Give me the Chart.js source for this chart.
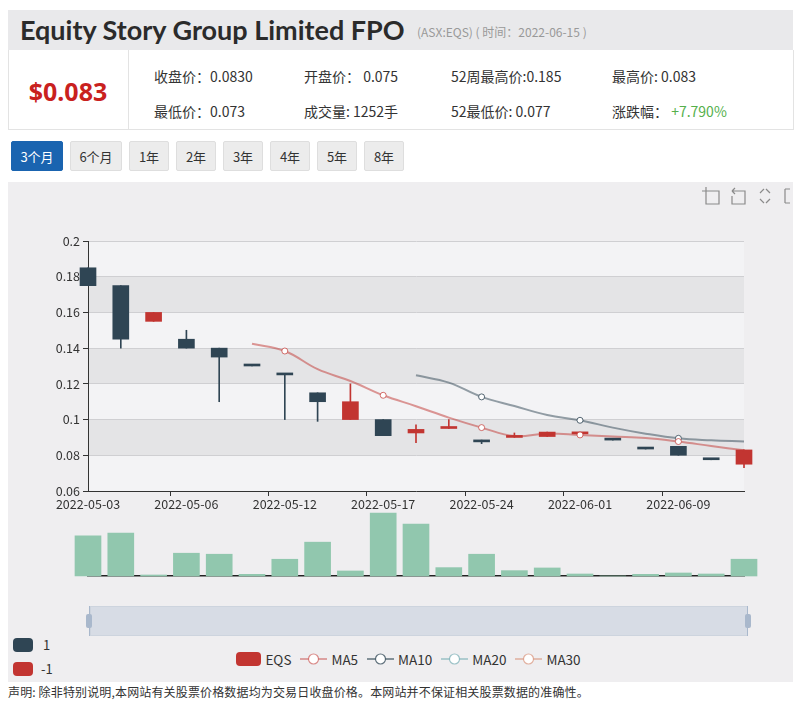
<!DOCTYPE html>
<html>
<head>
<meta charset="utf-8">
<script src="https://cdn.jsdelivr.net/npm/chart.js@4.4.1/dist/chart.umd.min.js"></script>
<style>
  body { margin: 0; width: 803px; height: 706px; background: #fff; position: relative; overflow: hidden;
         font-family: "Noto Sans CJK SC", "Noto Sans", sans-serif; color: #333; }
  .abs { position: absolute; }
  #head { left: 8px; top: 10px; width: 785px; height: 40px; background: #e9e9eb; }
  #title { left: 20px; top: 13px; font: 700 27px Lato, "Noto Sans", sans-serif; color: #2b2b2b; white-space: nowrap; }
  #sub { left: 417px; top: 23px; font-size: 12px; color: #999; white-space: nowrap; }
  #info { left: 8px; top: 50px; width: 784px; height: 79px; border: 1px solid #e3e3e3; border-top: none; }
  #divider { left: 128px; top: 50px; width: 1px; height: 80px; background: #e3e3e3; }
  #price { left: 8px; top: 74px; width: 120px; text-align: center; font: 700 25px "Noto Sans", sans-serif; color: #c9211e; }
  .stat { font-size: 14px; white-space: nowrap; }
  .btn { top: 141px; height: 30px; line-height: 30px; text-align: center; font-size: 13px; background: #ececec;
         border: 1px solid #dedede; box-sizing: border-box; color: #333; border-radius: 2px; }
  .btn.on { background: #1a64b0; border-color: #1a64b0; color: #fff; }
  #box { left: 8px; top: 182px; width: 785px; height: 500px; background: #efeef0; }
  canvas { position: absolute; }
  .vm { width: 20px; height: 14px; border-radius: 4px; }
  .lg { font-size: 13px; white-space: nowrap; }
  #foot { left: 8px; top: 683px; font-size: 12px; letter-spacing: 0.15px; white-space: nowrap; }
</style>
</head>
<body>
<div id="head" class="abs"></div>
<div id="title" class="abs">Equity Story Group Limited FPO</div>
<div id="sub" class="abs">(ASX:EQS) ( 时间：2022-06-15 )</div>
<div id="info" class="abs"></div>
<div id="divider" class="abs"></div>
<div id="price" class="abs">$0.083</div>
<div class="abs stat" style="left:154px;top:66px">收盘价：0.0830</div>
<div class="abs stat" style="left:304px;top:66px">开盘价： 0.075</div>
<div class="abs stat" style="left:451px;top:66px">52周最高价:0.185</div>
<div class="abs stat" style="left:612px;top:66px">最高价: 0.083</div>
<div class="abs stat" style="left:154px;top:101px">最低价：0.073</div>
<div class="abs stat" style="left:304px;top:101px">成交量: 1252手</div>
<div class="abs stat" style="left:451px;top:101px">52最低价: 0.077</div>
<div class="abs stat" style="left:612px;top:101px">涨跌幅： <span style="color:#55b04c">+7.790%</span></div>

<div class="abs btn on" style="left:11px;width:52px">3个月</div>
<div class="abs btn" style="left:70px;width:52px">6个月</div>
<div class="abs btn" style="left:129px;width:40px">1年</div>
<div class="abs btn" style="left:176px;width:40px">2年</div>
<div class="abs btn" style="left:223px;width:40px">3年</div>
<div class="abs btn" style="left:270px;width:40px">4年</div>
<div class="abs btn" style="left:317px;width:40px">5年</div>
<div class="abs btn" style="left:364px;width:40px">8年</div>

<div id="box" class="abs"></div>
<svg class="abs" style="left:700px;top:185px" width="93" height="22" fill="none" stroke="#8a8a8a" stroke-width="1.2">
  <path d="M6 6 H19 V19 H6 Z M6 2 V10 M2 6 H10"/>
  <path d="M32 6 H45 V19 H32 V11 M32 6 L35 3 M32 6 L35 9"/>
  <path d="M60 8 L64 4 M66 4 L70 8 M70 14 L66 18 M64 18 L60 14" />
  <path d="M85 4 V18 M85 4 H90 M85 18 H90"/>
</svg>
<canvas id="priceChart" width="803" height="280" style="left:0;top:230px"></canvas>
<canvas id="volChart" width="803" height="75" style="left:0;top:505px"></canvas>

<div class="abs" style="left:90px;top:606px;width:658px;height:30px;background:#d7dce5;border:1px solid #cdd4de;box-sizing:border-box"></div>
<div class="abs" style="left:89px;top:606px;width:1px;height:30px;background:#a9b8cc"></div>
<div class="abs" style="left:747px;top:606px;width:1px;height:30px;background:#a9b8cc"></div>
<div class="abs" style="left:86px;top:614px;width:6px;height:14px;background:#a9b8cc;border-radius:2px"></div>
<div class="abs" style="left:745px;top:614px;width:6px;height:14px;background:#a9b8cc;border-radius:2px"></div>

<div class="abs vm" style="left:13px;top:638px;background:#2f4554"></div>
<div class="abs lg" style="left:43px;top:635px">1</div>
<div class="abs vm" style="left:13px;top:662px;background:#c23531"></div>
<div class="abs lg" style="left:41px;top:659px">-1</div>

<div id="legend" class="abs" style="left:0;top:649px;width:803px;height:20px"></div>
<div id="foot" class="abs">声明: 除非特别说明,本网站有关股票价格数据均为交易日收盘价格。本网站并不保证相关股票数据的准确性。</div>

<script>
// daily candles, 3-month view
const dates = ['2022-05-03', '2022-05-04', '2022-05-05', '2022-05-06', '2022-05-09', '2022-05-10', '2022-05-12',
  '2022-05-13', '2022-05-16', '2022-05-17', '2022-05-18', '2022-05-20', '2022-05-24', '2022-05-25',
  '2022-05-27', '2022-06-01', '2022-06-02', '2022-06-07', '2022-06-09', '2022-06-10', '2022-06-15'];
const opens  = [0.185, 0.175, 0.155, 0.145, 0.14, 0.13, 0.125, 0.115, 0.10, 0.10, 0.0925, 0.095, 0.0885, 0.09,
  0.0905, 0.092, 0.0885, 0.0835, 0.085, 0.0775, 0.075];
const closes = [0.175, 0.145, 0.16, 0.14, 0.135, 0.13, 0.125, 0.11, 0.11, 0.091, 0.0945, 0.095, 0.0875, 0.091,
  0.093, 0.0925, 0.0885, 0.0835, 0.08, 0.0775, 0.083];
const lows   = [0.175, 0.14, 0.155, 0.14, 0.11, 0.13, 0.10, 0.099, 0.10, 0.091, 0.087, 0.095, 0.0865, 0.09,
  0.0905, 0.092, 0.0885, 0.0835, 0.08, 0.0775, 0.073];
const highs  = [0.185, 0.175, 0.16, 0.15, 0.14, 0.13, 0.125, 0.115, 0.12, 0.10, 0.097, 0.10, 0.0885, 0.0925,
  0.093, 0.0925, 0.0885, 0.0835, 0.085, 0.0775, 0.083];
const signs  = [1, 1, -1, 1, 1, 1, 1, 1, -1, 1, -1, -1, 1, -1, -1, -1, 1, 1, 1, 1, -1];
const ma5  = [null, null, null, null, null, 0.1425, 0.1384, 0.1282, 0.1216, 0.1136, 0.1075, 0.1011, 0.0955,
  0.0908, 0.0922, 0.0914, 0.0905, 0.0897, 0.0877, 0.0852, 0.0828];
const ma10 = [null, null, null, null, null, null, null, null, null, null, 0.1248, 0.1207, 0.1127, 0.1076,
  0.1026, 0.0996, 0.0955, 0.0921, 0.0895, 0.0884, 0.0877];
const volumes = [3000, 3200, 75, 1700, 1625, 125, 1250, 2525, 375, 4700, 3875, 625, 1625, 400, 600, 150, 0,
  125, 225, 150, 1252];
const yTicks = { min: 0.06, max: 0.2, step: 0.02 };

const DARK = '#2f4554', RED = '#c23531';
const candleColor = i => signs[i] > 0 ? DARK : RED;

const legendItems = [
  { name: 'EQS', type: 'box', color: RED },
  { name: 'MA5', type: 'line', color: 'rgba(194,53,49,0.55)' },
  { name: 'MA10', type: 'line', color: 'rgba(47,69,84,0.75)' },
  { name: 'MA20', type: 'line', color: 'rgba(97,160,168,0.6)' },
  { name: 'MA30', type: 'line', color: 'rgba(212,130,101,0.6)' }
];

// html legend, centred like the echarts one
const legend = document.getElementById('legend');
const row = document.createElement('div');
row.style.cssText = 'display:flex;justify-content:center;align-items:center;height:20px;gap:9px;margin-left:14px';
legendItems.forEach(it => {
  const el = document.createElement('div');
  el.style.cssText = 'display:flex;align-items:center;gap:4px;font-size:13.5px;color:#333';
  const icon = it.type === 'box'
    ? `<span style="display:inline-block;width:25px;height:14px;border-radius:4px;background:${it.color}"></span>`
    : `<svg width="27" height="14"><line x1="0" y1="7" x2="27" y2="7" stroke="${it.color}" stroke-width="1.5"/>` +
      `<circle cx="13.5" cy="7" r="5" fill="#fff" stroke="${it.color}" stroke-width="1.2"/></svg>`;
  el.innerHTML = icon + `<span>${it.name}</span>`;
  row.appendChild(el);
});
legend.appendChild(row);

// alternating split-area bands behind the price grid
const bandPlugin = {
  id: 'bands',
  beforeDraw(chart) {
    const { ctx, chartArea: a, scales: { y } } = chart;
    const vals = y.ticks.map(t => t.value).sort((p, q) => p - q);
    ctx.save();
    ctx.fillStyle = '#f3f3f5';
    ctx.fillRect(a.left, a.top, a.right - a.left, a.bottom - a.top);
    for (let i = 0; i < vals.length - 1; i++) {
      if (i % 2 === 0) continue;
      const top = y.getPixelForValue(vals[i + 1]);
      const bot = y.getPixelForValue(vals[i]);
      ctx.fillStyle = '#e4e4e6';
      ctx.fillRect(a.left, top, a.right - a.left, bot - top);
    }
    ctx.restore();
  }
};

const pointAtLabels = ctx => ctx.dataIndex % 3 === 0 ? 3 : 0;
const tickFont = { size: 12.5, family: '"Noto Sans CJK SC", "Noto Sans", sans-serif' };

new Chart(document.getElementById('priceChart'), {
  data: {
    labels: dates,
    datasets: [
      {
        type: 'line', label: 'MA5', data: ma5, order: 0,
        borderColor: 'rgba(194,53,49,0.5)', borderWidth: 2, tension: 0.4,
        pointRadius: pointAtLabels, pointBackgroundColor: '#fff', pointBorderColor: 'rgba(194,53,49,0.7)', pointBorderWidth: 1
      },
      {
        type: 'line', label: 'MA10', data: ma10, order: 0,
        borderColor: 'rgba(47,69,84,0.5)', borderWidth: 2, tension: 0.4,
        pointRadius: pointAtLabels, pointBackgroundColor: '#fff', pointBorderColor: 'rgba(47,69,84,0.8)', pointBorderWidth: 1
      },
      {
        type: 'bar', label: 'EQS', data: opens.map((o, i) => [o, closes[i]]), order: 1,
        backgroundColor: ctx => candleColor(ctx.dataIndex), barThickness: 16, minBarLength: 2,
        grouped: false, clip: false
      },
      {
        type: 'bar', label: 'wick', data: lows.map((l, i) => [l, highs[i]]), order: 2,
        backgroundColor: ctx => candleColor(ctx.dataIndex), barThickness: 1,
        grouped: false, clip: false
      }
    ]
  },
  options: {
    responsive: false,
    animation: false,
    devicePixelRatio: 1,
    layout: { padding: { left: 0, right: 59, top: 11, bottom: 0 } },
    plugins: { legend: { display: false }, tooltip: { enabled: false } },
    scales: {
      x: {
        type: 'category', offset: false,
        grid: { drawOnChartArea: false, drawTicks: true, tickLength: 5,
                tickColor: ctx => ctx.index % 3 === 0 ? '#333' : 'rgba(0,0,0,0)' },
        border: { display: true, color: '#333', width: 1 },
        ticks: { autoSkip: false, maxRotation: 0, padding: 1, color: '#333', font: tickFont,
                 callback: (v, i) => i % 3 === 0 ? dates[i] : '' },
        afterFit: s => { s.height = 19; }
      },
      y: {
        min: yTicks.min, max: yTicks.max,
        grid: { color: '#cfcfd2', tickColor: '#333', tickLength: 5 },
        border: { display: true, color: '#333', width: 1 },
        ticks: { stepSize: yTicks.step, color: '#333', padding: 3, font: tickFont,
                 callback: v => String(parseFloat(v.toFixed(2))) },
        afterFit: s => { s.width = 88; }
      }
    }
  },
  plugins: [bandPlugin]
});

new Chart(document.getElementById('volChart'), {
  type: 'bar',
  data: {
    labels: dates,
    datasets: [{ label: 'Volume', data: volumes, backgroundColor: '#91c7ae', barThickness: 26, clip: false }]
  },
  options: {
    responsive: false,
    animation: false,
    devicePixelRatio: 1,
    layout: { padding: { left: 88, right: 59, top: 4, bottom: 0 } },
    plugins: { legend: { display: false }, tooltip: { enabled: false } },
    scales: {
      x: {
        offset: false,
        grid: { display: true, drawOnChartArea: false, drawTicks: false },
        border: { display: true, color: '#222', width: 1.5 },
        ticks: { display: false },
        afterFit: s => { s.height = 4; }
      },
      y: { display: false, min: 0, max: 5000 }
    }
  }
});
</script>
</body>
</html>
